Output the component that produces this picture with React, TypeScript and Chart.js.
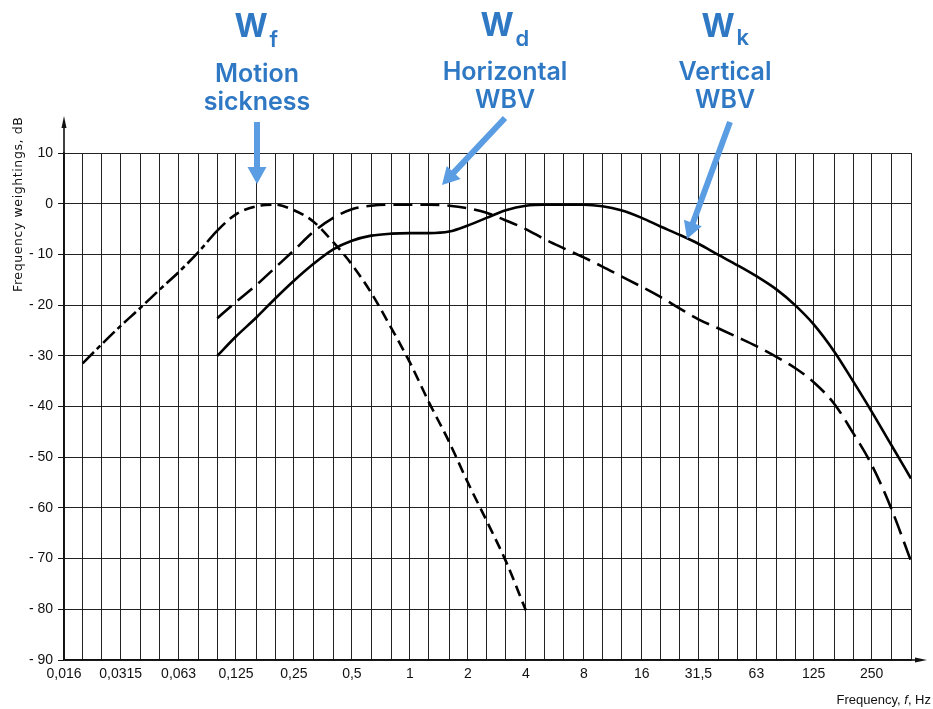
import { useEffect, useRef } from 'react';
import { Chart, registerables } from 'chart.js';

Chart.register(...registerables);

// Third-octave grid frequencies (Hz)
const THIRD_OCTAVE_FREQS = [
  0.016, 0.02, 0.025, 0.0315, 0.04, 0.05, 0.063, 0.08, 0.1, 0.125, 0.16, 0.2, 0.25, 0.315, 0.4,
  0.5, 0.63, 0.8, 1, 1.25, 1.6, 2, 2.5, 3.15, 4, 5, 6.3, 8, 10, 12.5, 16, 20, 25, 31.5, 40, 50,
  63, 80, 100, 125, 160, 200, 250, 315, 400,
];
const X_TICK_VALUES = [0.016, 0.0315, 0.063, 0.125, 0.25, 0.5, 1, 2, 4, 8, 16, 31.5, 63, 125, 250];
const X_TICK_LABELS = ['0,016', '0,0315', '0,063', '0,125', '0,25', '0,5', '1', '2', '4', '8', '16', '31,5', '63', '125', '250'];
const Y_TICK_VALUES = [10, 0, -10, -20, -30, -40, -50, -60, -70, -80, -90];
const Y_TICK_LABELS = ['10', '0', '- 10', '- 20', '- 30', '- 40', '- 50', '- 60', '- 70', '- 80', '- 90'];

// Wf – motion sickness
const WF_FREQ = [0.02, 0.025, 0.0315, 0.04, 0.05, 0.063, 0.08, 0.1, 0.125, 0.16, 0.2, 0.25, 0.315, 0.4, 0.5, 0.63, 0.8, 1, 1.25, 1.6, 2, 2.5, 3.15, 4];
const WF_DB = [-31.5, -27.8, -24.1, -20.5, -17.0, -13.5, -9.5, -5.3, -2.1, -0.5, -0.2, -1.3, -3.5, -7.6, -12.0, -17.6, -24.5, -31.3, -39.0, -47.0, -55.0, -62.5, -70.5, -80.2];

// Wd – horizontal WBV
const WD_FREQ = [0.1, 0.125, 0.16, 0.2, 0.25, 0.315, 0.4, 0.5, 0.63, 0.8, 1, 1.25, 1.6, 2, 2.5, 3.15, 4, 5, 6.3, 8, 10, 12.5, 16, 20, 25, 31.5, 40, 50, 63, 80, 100, 125, 160, 200, 250, 315, 400];
const WD_DB = [-22.6, -19.4, -16.0, -12.6, -9.2, -5.6, -2.8, -1.1, -0.4, -0.2, -0.2, -0.2, -0.4, -0.9, -1.8, -3.3, -5.0, -7.0, -8.8, -10.6, -12.4, -14.3, -16.4, -18.4, -20.6, -22.8, -24.6, -26.3, -28.1, -30.2, -32.4, -35.2, -39.5, -45.2, -51.5, -60.0, -70.5];

// Wk – vertical WBV
const WK_FREQ = [0.1, 0.125, 0.16, 0.2, 0.25, 0.315, 0.4, 0.5, 0.63, 0.8, 1, 1.25, 1.6, 2, 2.5, 3.15, 4, 5, 6.3, 8, 10, 12.5, 16, 20, 25, 31.5, 40, 50, 63, 80, 100, 125, 160, 200, 250, 315, 400];
const WK_DB = [-30.0, -26.2, -22.4, -18.7, -15.2, -11.9, -9.0, -7.3, -6.3, -5.9, -5.8, -5.8, -5.5, -4.3, -2.8, -1.3, -0.4, -0.2, -0.2, -0.2, -0.5, -1.3, -2.8, -4.5, -6.1, -7.9, -10.1, -12.1, -14.3, -16.9, -20.0, -23.8, -29.2, -35.0, -41.0, -47.5, -54.2];

const TEXT_BLUE = '#2f78c4';
const ARROW_BLUE = '#5b9de3';
const TICK_FONT = '"Liberation Sans", Arial, sans-serif';
const ANNOT_FONT = 'Inter, "Noto Sans", Roboto, sans-serif';

const toPoints = (xs: number[], ys: number[]) => xs.map((x, i) => ({ x, y: ys[i] }));

function drawArrow(ctx: CanvasRenderingContext2D, x0: number, y0: number, x1: number, y1: number) {
  const ang = Math.atan2(y1 - y0, x1 - x0);
  const headLen = 17;
  const headW = 9.5;
  const bx = x1 - Math.cos(ang) * headLen;
  const by = y1 - Math.sin(ang) * headLen;
  ctx.strokeStyle = ARROW_BLUE;
  ctx.fillStyle = ARROW_BLUE;
  ctx.lineWidth = 6;
  ctx.lineCap = 'butt';
  ctx.beginPath();
  ctx.moveTo(x0, y0);
  ctx.lineTo(bx + Math.cos(ang) * 2, by + Math.sin(ang) * 2);
  ctx.stroke();
  ctx.beginPath();
  ctx.moveTo(x1, y1);
  ctx.lineTo(bx + Math.sin(ang) * headW, by - Math.cos(ang) * headW);
  ctx.lineTo(bx - Math.sin(ang) * headW, by + Math.cos(ang) * headW);
  ctx.closePath();
  ctx.fill();
}

function drawW(ctx: CanvasRenderingContext2D, wCenter: number, baseline: number, sub: string, subBaseline: number) {
  ctx.fillStyle = TEXT_BLUE;
  ctx.font = `700 32px ${ANNOT_FONT}`;
  ctx.textAlign = 'center';
  ctx.textBaseline = 'alphabetic';
  ctx.fillText('W', wCenter, baseline);
  const ww = ctx.measureText('W').width;
  ctx.font = `600 22px ${ANNOT_FONT}`;
  ctx.textAlign = 'left';
  ctx.fillText(sub, wCenter + ww / 2 + 2, subBaseline);
}

function drawLines(ctx: CanvasRenderingContext2D, cx: number, lines: string[], baselines: number[]) {
  ctx.fillStyle = TEXT_BLUE;
  ctx.font = `600 25px ${ANNOT_FONT}`;
  ctx.textAlign = 'center';
  ctx.textBaseline = 'alphabetic';
  lines.forEach((t, i) => ctx.fillText(t, cx, baselines[i]));
}

const decorPlugin = {
  id: 'decor',
  afterDraw(chart: any) {
    const { ctx, chartArea: a } = chart;
    ctx.save();
    // axis extensions with arrowheads
    ctx.strokeStyle = '#111';
    ctx.fillStyle = '#111';
    ctx.lineWidth = 1.6;
    ctx.beginPath();
    ctx.moveTo(a.left, a.top);
    ctx.lineTo(a.left, 124);
    ctx.stroke();
    ctx.beginPath();
    ctx.moveTo(a.left, 116);
    ctx.lineTo(a.left - 2.5, 128);
    ctx.lineTo(a.left + 2.5, 128);
    ctx.closePath();
    ctx.fill();
    ctx.beginPath();
    ctx.moveTo(a.right, a.bottom);
    ctx.lineTo(918, a.bottom);
    ctx.stroke();
    ctx.beginPath();
    ctx.moveTo(927, a.bottom);
    ctx.lineTo(915, a.bottom - 2.5);
    ctx.lineTo(915, a.bottom + 2.5);
    ctx.closePath();
    ctx.fill();

    // y-axis title
    ctx.save();
    ctx.translate(19, 292);
    ctx.rotate(-Math.PI / 2);
    ctx.font = '12.5px "DejaVu Sans", sans-serif';
    try {
      (ctx as any).letterSpacing = '0.6px';
    } catch (e) {}
    ctx.fillStyle = '#111';
    ctx.textAlign = 'left';
    ctx.textBaseline = 'middle';
    ctx.fillText('Frequency weightings, dB', 0, 0);
    try {
      (ctx as any).letterSpacing = '0px';
    } catch (e) {}
    ctx.restore();

    // x-axis title
    ctx.fillStyle = '#111';
    ctx.textBaseline = 'middle';
    ctx.textAlign = 'left';
    const p1 = 'Frequency, ';
    const p3 = ', Hz';
    ctx.font = `13px ${TICK_FONT}`;
    const w1 = ctx.measureText(p1).width;
    const w3 = ctx.measureText(p3).width;
    ctx.font = `italic 13px ${TICK_FONT}`;
    const w2 = ctx.measureText('f').width;
    let x = 931 - (w1 + w2 + w3);
    ctx.font = `13px ${TICK_FONT}`;
    ctx.fillText(p1, x, 700);
    x += w1;
    ctx.font = `italic 13px ${TICK_FONT}`;
    ctx.fillText('f', x, 700);
    x += w2;
    ctx.font = `13px ${TICK_FONT}`;
    ctx.fillText(p3, x, 700);

    // annotations
    drawW(ctx, 251, 37, 'f', 47);
    drawLines(ctx, 257, ['Motion', 'sickness'], [82, 110]);
    drawArrow(ctx, 257, 122, 257, 184);

    drawW(ctx, 497, 36, 'd', 46);
    drawLines(ctx, 505, ['Horizontal', 'WBV'], [80, 108]);
    drawArrow(ctx, 505, 118, 442, 185);

    drawW(ctx, 718, 37, 'k', 45);
    drawLines(ctx, 725, ['Vertical', 'WBV'], [80, 108]);
    drawArrow(ctx, 730, 122, 687, 239);

    ctx.restore();
  },
};

export default function App() {
  const ref = useRef<HTMLCanvasElement | null>(null);

  useEffect(() => {
    if (!ref.current) return;
    const common = {
      borderColor: '#000',
      borderWidth: 2.6,
      pointRadius: 0,
      fill: false,
      cubicInterpolationMode: 'monotone',
    };
    const chart = new Chart(ref.current, {
      type: 'line',
      data: {
        datasets: [
          {
            ...common,
            label: 'Wf',
            data: toPoints(WF_FREQ, WF_DB),
            borderDash: [11, 6],
            segment: {
              borderDash: (c: any) => (c.p0.parsed.x < 0.1 ? [16, 4, 5, 4] : [11, 6]),
            },
          },
          {
            ...common,
            label: 'Wd',
            data: toPoints(WD_FREQ, WD_DB),
            borderDash: [19, 8],
          },
          {
            ...common,
            label: 'Wk',
            data: toPoints(WK_FREQ, WK_DB),
          },
        ],
      },
      options: {
        responsive: false,
        animation: false,
        layout: { padding: { top: 153, right: 22, left: 0, bottom: 0 } },
        plugins: { legend: { display: false }, tooltip: { enabled: false } },
        scales: {
          x: {
            type: 'logarithmic',
            min: 0.016,
            max: 400,
            afterBuildTicks: (scale: any) => {
              scale.ticks = THIRD_OCTAVE_FREQS.map((v) => ({ value: v }));
            },
            afterFit: (scale: any) => {
              scale.height = 49;
            },
            grid: { color: '#222', lineWidth: 1, drawTicks: false },
            border: { display: true, color: '#111', width: 1.6 },
            ticks: {
              autoSkip: false,
              maxRotation: 0,
              minRotation: 0,
              padding: 6,
              color: '#111',
              font: { family: TICK_FONT, size: 14 },
              callback: (value: any) => {
                const i = X_TICK_VALUES.indexOf(Number(value));
                return i >= 0 ? X_TICK_LABELS[i] : '';
              },
            },
          },
          y: {
            type: 'linear',
            min: -90,
            max: 10,
            afterBuildTicks: (scale: any) => {
              scale.ticks = Y_TICK_VALUES.map((v) => ({ value: v }));
            },
            afterFit: (scale: any) => {
              scale.width = 64;
            },
            grid: { color: '#222', lineWidth: 1, drawTicks: true, tickLength: 6, tickColor: '#111' },
            border: { display: true, color: '#111', width: 1.6 },
            ticks: {
              padding: 5,
              color: '#111',
              font: { family: TICK_FONT, size: 14 },
              callback: (value: any) => {
                const i = Y_TICK_VALUES.indexOf(Number(value));
                return i >= 0 ? Y_TICK_LABELS[i] : '';
              },
            },
          },
        },
      },
      plugins: [decorPlugin],
    } as any);
    return () => chart.destroy();
  }, []);

  return (
    <div style={{ position: 'absolute', left: 0, top: 0, width: 933, height: 709, background: '#fff' }}>
      <canvas ref={ref} width={933} height={709} style={{ display: 'block' }} />
    </div>
  );
}
